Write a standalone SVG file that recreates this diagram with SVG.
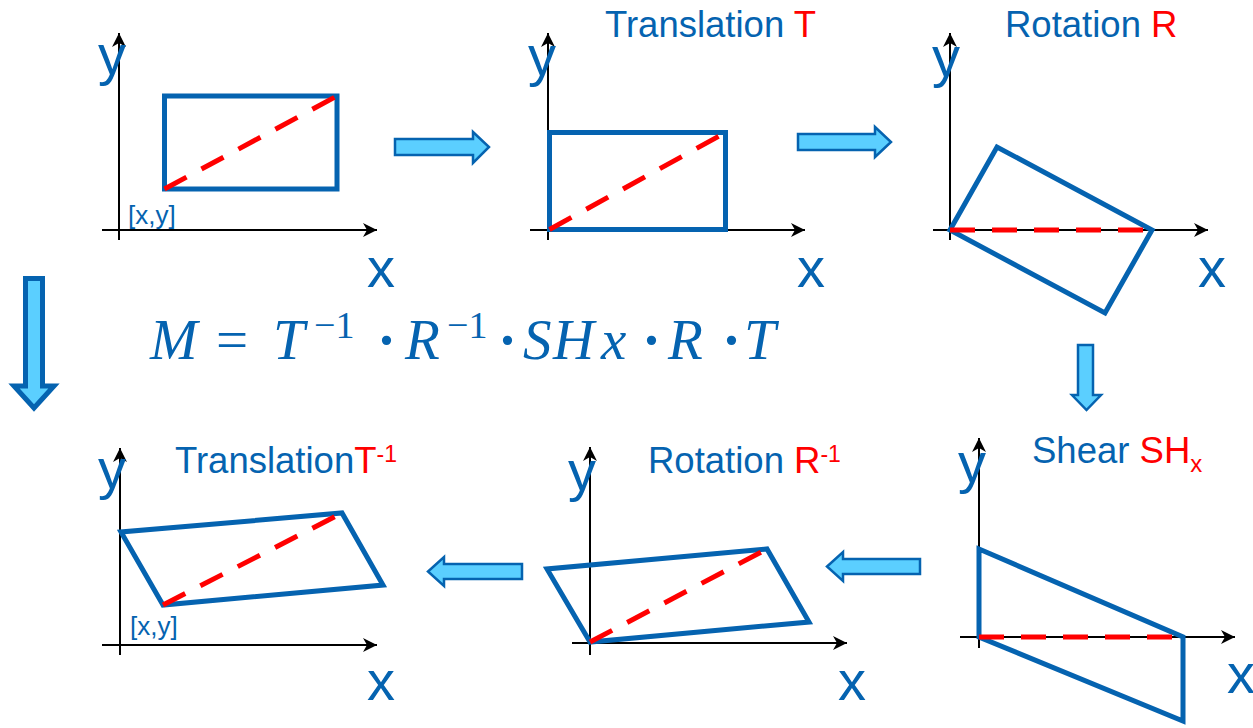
<svg xmlns="http://www.w3.org/2000/svg" width="1253" height="728" viewBox="0 0 1253 728">
<defs>
<marker id="ah" markerUnits="userSpaceOnUse" markerWidth="16" markerHeight="14" refX="14" refY="7" orient="auto" viewBox="0 0 16 14">
<path d="M0,0 L14,7 L0,14 L4,7 z" fill="#000"/>
</marker>
<style>
.ax{stroke:#000;stroke-width:2;fill:none}
.shape{fill:none;stroke:#0563B0;stroke-width:5;stroke-linejoin:miter}
.diag{stroke:#FF0000;stroke-width:5;stroke-dasharray:25 17;fill:none}
.lbl{font-family:"Liberation Sans",Arial,sans-serif;font-size:56px;fill:#0563B0}
.ttl{font-family:"Liberation Sans",Arial,sans-serif;font-size:36.5px;fill:#0563B0}
.pt{font-family:"Liberation Sans",Arial,sans-serif;font-size:26px;fill:#0563B0}
.red{fill:#FF0000}
.sup{font-size:23px}
.blk{fill:#5BCFFF;stroke:#0563B0;stroke-width:2.5;stroke-linejoin:miter}
.blk2{fill:#5BCFFF;stroke:#0563B0;stroke-width:5;stroke-linejoin:miter}
.fm{font-family:"Liberation Serif","Times New Roman",serif;font-size:57px;fill:#0563B0}
.fi{font-style:italic}
.fs{font-size:38px}
.dot{font-weight:bold}
</style>
</defs>
<rect width="1253" height="728" fill="#fff"/>

<g id="panel-original">
<line class="ax" x1="119" y1="240" x2="119" y2="33" marker-end="url(#ah)"/>
<line class="ax" x1="102" y1="230" x2="377" y2="230" marker-end="url(#ah)"/>
<rect class="shape" x="164.5" y="96" width="172.5" height="93"/>
<line class="diag" x1="164.5" y1="189" x2="337" y2="96"/>
<text class="lbl" x="98" y="74">y</text>
<text class="lbl" x="367" y="287">x</text>
<text class="pt" x="128" y="224">[x,y]</text>
</g>

<g id="panel-translation">
<line class="ax" x1="548" y1="240" x2="548" y2="33" marker-end="url(#ah)"/>
<line class="ax" x1="530" y1="230" x2="805" y2="230" marker-end="url(#ah)"/>
<rect class="shape" x="549.5" y="132.5" width="176" height="97"/>
<line class="diag" x1="549.5" y1="229.5" x2="725.5" y2="132.5"/>
<text class="lbl" x="528" y="75">y</text>
<text class="lbl" x="797" y="287">x</text>
<text class="ttl" x="605" y="37">Translation <tspan class="red">T</tspan></text>
</g>

<g id="panel-rotation">
<line class="ax" x1="950" y1="240" x2="950" y2="33" marker-end="url(#ah)"/>
<line class="ax" x1="933" y1="230" x2="1208" y2="230" marker-end="url(#ah)"/>
<polygon class="shape" points="950,230 997,147 1152,230 1105,313"/>
<line class="diag" x1="950" y1="230" x2="1152" y2="230"/>
<text class="lbl" x="932" y="76">y</text>
<text class="lbl" x="1198" y="287">x</text>
<text class="ttl" x="1005" y="37">Rotation <tspan class="red">R</tspan></text>
</g>

<g id="panel-shear">
<line class="ax" x1="979" y1="648" x2="979" y2="438" marker-end="url(#ah)"/>
<line class="ax" x1="960" y1="637" x2="1235" y2="637" marker-end="url(#ah)"/>
<polygon class="shape" points="979,549 1183,637 1183,721 979,637"/>
<line class="diag" x1="979" y1="637" x2="1183" y2="637"/>
<text class="lbl" x="958" y="482">y</text>
<text class="lbl" x="1227" y="693">x</text>
<text class="ttl" x="1032" y="463">Shear <tspan class="red">SH</tspan><tspan class="red" font-size="24" dy="9">x</tspan></text>
</g>

<g id="panel-rotation-inverse">
<line class="ax" x1="590" y1="655" x2="590" y2="447" marker-end="url(#ah)"/>
<line class="ax" x1="572" y1="643" x2="847" y2="643" marker-end="url(#ah)"/>
<polygon class="shape" points="590,642 547,569 767,549 809,622"/>
<line class="diag" x1="590" y1="642" x2="767" y2="549"/>
<text class="lbl" x="568" y="490">y</text>
<text class="lbl" x="838" y="700">x</text>
<text class="ttl" x="648" y="473">Rotation <tspan class="red">R</tspan><tspan class="red sup" dy="-11">-1</tspan></text>
</g>

<g id="panel-translation-inverse">
<line class="ax" x1="120" y1="655" x2="120" y2="448" marker-end="url(#ah)"/>
<line class="ax" x1="102" y1="645" x2="377" y2="645" marker-end="url(#ah)"/>
<polygon class="shape" points="163,605 121,532 342,513 383,585"/>
<line class="diag" x1="163" y1="605" x2="342" y2="513"/>
<text class="lbl" x="98" y="488">y</text>
<text class="lbl" x="367" y="700">x</text>
<text class="pt" x="130" y="635">[x,y]</text>
<text class="ttl" x="175" y="473">Translation<tspan class="red">T</tspan><tspan class="red sup" dy="-11">-1</tspan></text>
</g>

<g id="formula">
<text class="fm" y="359"><tspan class="fi" x="150">M</tspan><tspan x="216">=</tspan><tspan class="fi" x="273">T</tspan><tspan class="fs" x="314" y="338">−1</tspan><tspan class="dot" x="377" y="359">·</tspan><tspan class="fi" x="405">R</tspan><tspan class="fs" x="447" y="338">−1</tspan><tspan class="dot" x="498" y="359">·</tspan><tspan class="fi" x="523">S</tspan><tspan class="fi" x="553">H</tspan><tspan class="fi" x="601">x</tspan><tspan class="dot" x="642">·</tspan><tspan class="fi" x="668">R</tspan><tspan class="dot" x="722">·</tspan><tspan class="fi" x="744">T</tspan></text>
</g>

<g id="connectors">
<polygon class="blk" points="395,139 473,139 473,132 489,147 473,163 473,155 395,155"/>
<polygon class="blk" points="798,134 875,134 875,127 891,142 875,157 875,150 798,150"/>
<polygon class="blk" points="1078,345 1093,345 1093,395 1101,395 1086.5,410 1072,395 1078,395"/>
<polygon class="blk" points="920,559 843,559 843,552 827,566.5 843,581 843,574 920,574"/>
<polygon class="blk" points="522,564 444,564 444,557 428,571.5 444,586 444,579 522,579"/>
<polygon class="blk2" points="25.5,278.5 42.5,278.5 42.5,386 54,386 34,408 14,386 25.5,386"/>
</g>
</svg>
